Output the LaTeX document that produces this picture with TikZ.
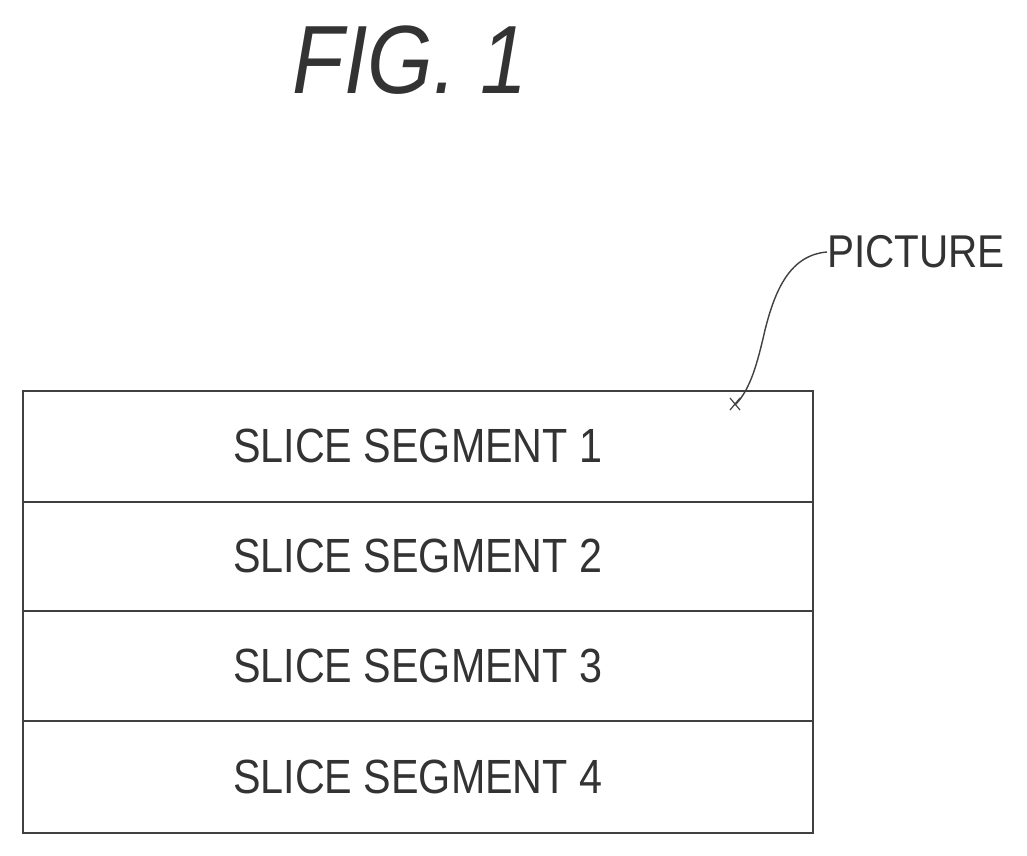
\documentclass[tikz,border=0pt]{standalone}
\usepackage{fontspec}
\setmainfont{Liberation Sans}
\begin{document}
\begin{tikzpicture}[x=1pt,y=-1pt,
  seg/.style={draw=black!75,line width=1.6pt,minimum width=790pt,minimum height=110pt,inner sep=0pt,anchor=north west},
  lab/.style={font=\fontsize{48}{50}\selectfont,text=black!80,inner sep=0pt}]
\useasboundingbox (0,0) rectangle (1027,855);
\node[inner sep=0pt,text=black!80] (title) at (410,60) {\scalebox{0.87}[1]{\fontsize{97}{100}\selectfont\itshape FIG. 1}};
\node[seg,minimum height=111pt] (s1) at (22,390) {};
\node[seg,minimum height=109pt] (s2) at (22,501) {};
\node[seg,minimum height=110pt] (s3) at (22,610) {};
\node[seg,minimum height=112pt] (s4) at (22,720) {};
\node[lab] at (s1.center) {\scalebox{0.86}[1]{SLICE SEGMENT 1}};
\node[lab] at (s2.center) {\scalebox{0.86}[1]{SLICE SEGMENT 2}};
\node[lab] at (s3.center) {\scalebox{0.86}[1]{SLICE SEGMENT 3}};
\node[lab] at (s4.center) {\scalebox{0.86}[1]{SLICE SEGMENT 4}};
\node[lab,font=\fontsize{46}{48}\selectfont,anchor=west] (pic) at (827,252) {\scalebox{0.88}[1]{PICTURE}};
\coordinate (tip) at (735,405);
\draw[black!75,line width=1.4pt] (pic.west) .. controls (790,255) and (775,290) .. (765,330) .. controls (757,365) and (750,390) .. (tip);
\draw[black!75,line width=1.2pt] (730,398) -- (740,410) (740,398) -- (730,410);
\end{tikzpicture}
\end{document}
